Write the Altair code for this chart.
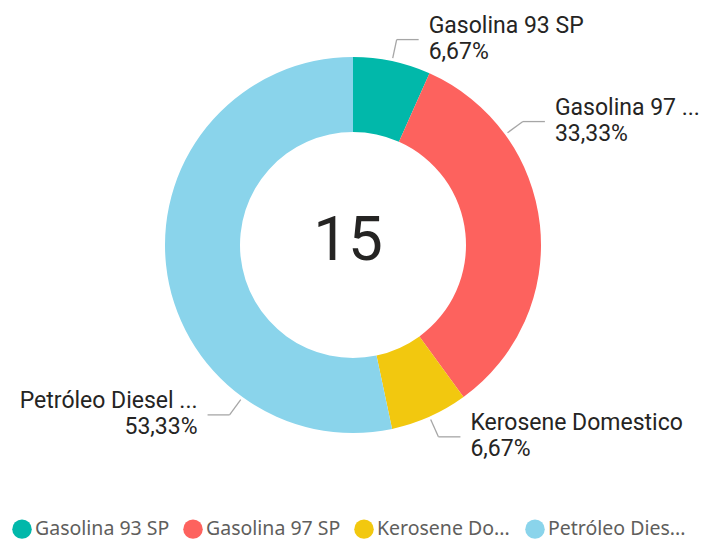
import altair as alt
import pandas as pd

# ---- data ----
categories = ["Gasolina 93 SP", "Gasolina 97 SP", "Kerosene Domestico", "Petróleo Diesel"]
counts = [1, 5, 1, 8]
slice_labels = ["Gasolina 93 SP", "Gasolina 97 ...", "Kerosene Domestico", "Petróleo Diesel ..."]
legend_labels = ["Gasolina 93 SP", "Gasolina 97 SP", "Kerosene Do...", "Petróleo Dies..."]
colors = ["#01B8AA", "#FD625E", "#F2C80F", "#8AD4EB"]

# ---- layout (not data) ----
W, H = 703, 532
CX, CY = 345, 237
R_OUT, R_IN = 188, 113
R_LEAD0, R_LEAD1 = 191, 210
ELBOW, GAP = 22, 10
anchor_frac = [0.5, 0.25, 0.5, 0.25]  # where along each slice the leader line attaches

df = pd.DataFrame({
    "category": categories,
    "count": counts,
    "order": list(range(len(categories))),
    "label": slice_labels,
    "anchor": anchor_frac,
})

base = alt.Chart(df)

label_map = "{" + ",".join(f"'{c}':'{l}'" for c, l in zip(categories, legend_labels)) + "}[datum.label]"

arc = base.mark_arc(radius=R_OUT, radius2=R_IN).encode(
    theta=alt.Theta("count:Q", stack=True),
    color=alt.Color(
        "category:N",
        scale=alt.Scale(domain=categories, range=colors),
        sort=categories,
        legend=alt.Legend(
            orient="none", legendX=4, legendY=511, direction="horizontal", columns=4,
            gridAlign="all",
            title=None, symbolType="circle", symbolSize=380, symbolStrokeWidth=0,
            labelFont="Noto Sans", labelFontSize=19.5, labelColor="#605E5C",
            columnPadding=10, labelOffset=3, labelExpr=label_map, labelLimit=0,
        ),
    ),
    order=alt.Order("order:Q"),
    x=alt.value(CX),
    y=alt.value(CY),
)

geom = (
    base.transform_window(cum="sum(count)", sort=[alt.SortField("order")], frame=[None, 0])
    .transform_joinaggregate(total="sum(count)")
    .transform_calculate(
        a=f"2*PI*(datum.cum - datum.count + datum.anchor*datum.count)/datum.total",
    )
    .transform_calculate(
        side="sin(datum.a) >= 0 ? 1 : -1",
        x1=f"{CX} + {R_LEAD0}*sin(datum.a)",
        y1=f"{CY} - {R_LEAD0}*cos(datum.a)",
        x2=f"{CX} + {R_LEAD1}*sin(datum.a)",
        y2=f"{CY} - {R_LEAD1}*cos(datum.a)",
        pct="replace(format(datum.count/datum.total, '.2%'), '.', ',')",
    )
    .transform_calculate(
        x3=f"datum.x2 + datum.side*{ELBOW}",
        tx=f"datum.x2 + datum.side*{ELBOW + GAP}",
        ty="datum.y2 - 7",
        txt="datum.label + '\\n' + datum.pct",
    )
)

lead_color = "#A6A6A6"
rule1 = geom.mark_rule(color=lead_color, strokeWidth=1.3).encode(
    x=alt.X("x1:Q", scale=None, axis=None),
    y=alt.Y("y1:Q", scale=None, axis=None),
    x2="x2:Q",
    y2="y2:Q",
)
rule2 = geom.mark_rule(color=lead_color, strokeWidth=1.3).encode(
    x=alt.X("x2:Q", scale=None, axis=None),
    y=alt.Y("y2:Q", scale=None, axis=None),
    x2="x3:Q",
    y2="y2:Q",
)

text_kw = dict(baseline="alphabetic", font="Roboto", fontSize=23, lineHeight=26,
               color="#252423", lineBreak="\n")
text_r = geom.transform_filter("datum.side > 0").mark_text(align="left", **text_kw).encode(
    x=alt.X("tx:Q", scale=None, axis=None),
    y=alt.Y("ty:Q", scale=None, axis=None),
    text="txt:N",
)
text_l = geom.transform_filter("datum.side < 0").mark_text(align="right", **text_kw).encode(
    x=alt.X("tx:Q", scale=None, axis=None),
    y=alt.Y("ty:Q", scale=None, axis=None),
    text="txt:N",
)

center = base.transform_aggregate(total="sum(count)").mark_text(
    font="Roboto", fontSize=62, color="#252423", baseline="alphabetic", align="center"
).encode(
    x=alt.value(CX - 5),
    y=alt.value(CY + 15),
    text="total:Q",
)

chart = alt.layer(arc, rule1, rule2, text_r, text_l, center).properties(
    width=W, height=H, autosize="none", padding=0, background="white"
).configure_view(stroke=None)

chart.save("out.html", embed_options={"renderer": "svg", "actions": False})
